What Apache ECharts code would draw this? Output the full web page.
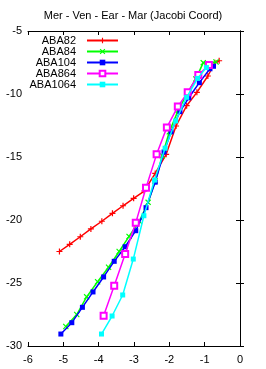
<!DOCTYPE html>
<html><head><meta charset="utf-8">
<script src="https://cdn.jsdelivr.net/npm/echarts@6/dist/echarts.min.js"></script>
<style>html,body{margin:0;padding:0;background:#fff}#c{width:266px;height:369px}</style>
</head><body><div id="c"></div>
<script>
const titleText = 'Mer - Ven - Ear - Mar (Jacobi Coord)';
const seriesNames = ['ABA82','ABA84','ABA104','ABA864','ABA1064'];
const seriesColors = ['#ff0000','#00ff00','#0000ff','#ff00ff','#00ffff'];
const xTicks = {min:-6, max:0, interval:1};
const yTicks = {min:-30, max:-5, interval:5};

const aba82 = [[-5.11,-22.5],[-4.82,-21.93],[-4.52,-21.33],[-4.22,-20.71],[-3.91,-20.1],[-3.61,-19.47],[-3.31,-18.87],[-3.01,-18.28],[-2.71,-17.7],[-2.4,-16.3],[-2.09,-14.79],[-1.81,-12.54],[-1.51,-10.93],[-1.22,-9.87],[-0.91,-8.57],[-0.71,-7.52],[-0.59,-7.36]];
const aba84 = [[-4.93,-28.45],[-4.62,-27.5],[-4.34,-26.1],[-4.03,-24.9],[-3.72,-23.75],[-3.42,-22.5],[-3.14,-21.3],[-2.85,-20.1],[-2.6,-18.6],[-2.4,-16.9],[-2.2,-14.9],[-2.0,-13.0],[-1.75,-11.3],[-1.5,-10.0],[-1.25,-8.8],[-1.04,-7.51],[-0.68,-7.46]];
const aba104 = [[-5.07,-29.05],[-4.76,-28.15],[-4.46,-26.93],[-4.16,-25.71],[-3.86,-24.52],[-3.56,-23.28],[-3.25,-22.12],[-2.95,-20.85],[-2.66,-19.02],[-2.4,-17.0],[-2.15,-14.6],[-1.95,-13.0],[-1.7,-11.4],[-1.45,-10.3],[-1.15,-9.1],[-0.85,-8.0],[-0.75,-7.8]];
const aba864 = [[-3.86,-27.6],[-3.56,-25.21],[-3.25,-22.7],[-2.95,-20.21],[-2.66,-17.44],[-2.36,-14.79],[-2.07,-12.65],[-1.76,-11.0],[-1.48,-9.87],[-1.18,-8.49],[-0.88,-7.7]];
const aba1064 = [[-3.92,-29.05],[-3.62,-27.62],[-3.32,-25.95],[-3.02,-23.1],[-2.72,-19.66],[-2.42,-16.83],[-2.12,-14.3],[-1.82,-12.14],[-1.51,-10.26],[-1.2,-8.76],[-0.95,-7.9]];

const allData = [aba82, aba84, aba104, aba864, aba1064];
const symbols = [
  'path://M4,0H6V4H10V6H6V10H4V6H0V4H4Z',
  'path://M1.4,0L5,3.6L8.6,0L10,1.4L6.4,5L10,8.6L8.6,10L5,6.4L1.4,10L0,8.6L3.6,5L0,1.4Z',
  'rect','emptyRect','rect'];
const symSizes = [6,6,5,6,5];
const FONT = 'Liberation Sans, Arial, sans-serif';

const chart = echarts.init(document.getElementById('c'));
const axisCommon = {
  axisLine:{show:true, lineStyle:{color:'#000', width:1}},
  axisTick:{show:true, inside:true, length:4, lineStyle:{color:'#000'}},
  splitLine:{show:false}
};
const legends = seriesNames.map((n,i)=>({
  data:[n], right:147, top:35 + i*11, orient:'vertical', align:'right',
  itemWidth:31, itemHeight:7, itemGap:0, padding:0,
  textStyle:{fontFamily:FONT, fontSize:11, color:'#000', padding:[0,6,0,0]}
}));
chart.setOption({
  animation:false,
  title:{text:titleText, left:'center', top:5, textStyle:{fontFamily:FONT, fontSize:11, fontWeight:'normal', color:'#000'}},
  legend:legends,
  grid:{left:28, right:26, top:31, bottom:23},
  xAxis:[
    Object.assign({type:'value', min:xTicks.min, max:xTicks.max, interval:xTicks.interval, position:'bottom',
      axisLabel:{fontFamily:FONT, fontSize:11, color:'#000', margin:8}}, axisCommon),
    Object.assign({type:'value', min:xTicks.min, max:xTicks.max, interval:xTicks.interval, position:'top',
      axisLabel:{show:false}}, axisCommon)
  ],
  yAxis:[
    Object.assign({type:'value', min:yTicks.min, max:yTicks.max, interval:yTicks.interval, position:'left',
      axisLabel:{fontFamily:FONT, fontSize:11, color:'#000', margin:6}}, axisCommon),
    Object.assign({type:'value', min:yTicks.min, max:yTicks.max, interval:yTicks.interval, position:'right',
      axisLabel:{show:false}}, axisCommon)
  ],
  series: seriesNames.map((n,i)=>({
    name:n, type:'line', data:allData[i], xAxisIndex:0, yAxisIndex:0,
    symbol:symbols[i], symbolSize:symSizes[i], showAllSymbol:true,
    lineStyle:{color:seriesColors[i], width:1.5},
    itemStyle:{color:seriesColors[i], borderColor:seriesColors[i], borderWidth: i===3?1.5:0},
    z: 10+i
  }))
});
</script></body></html>
